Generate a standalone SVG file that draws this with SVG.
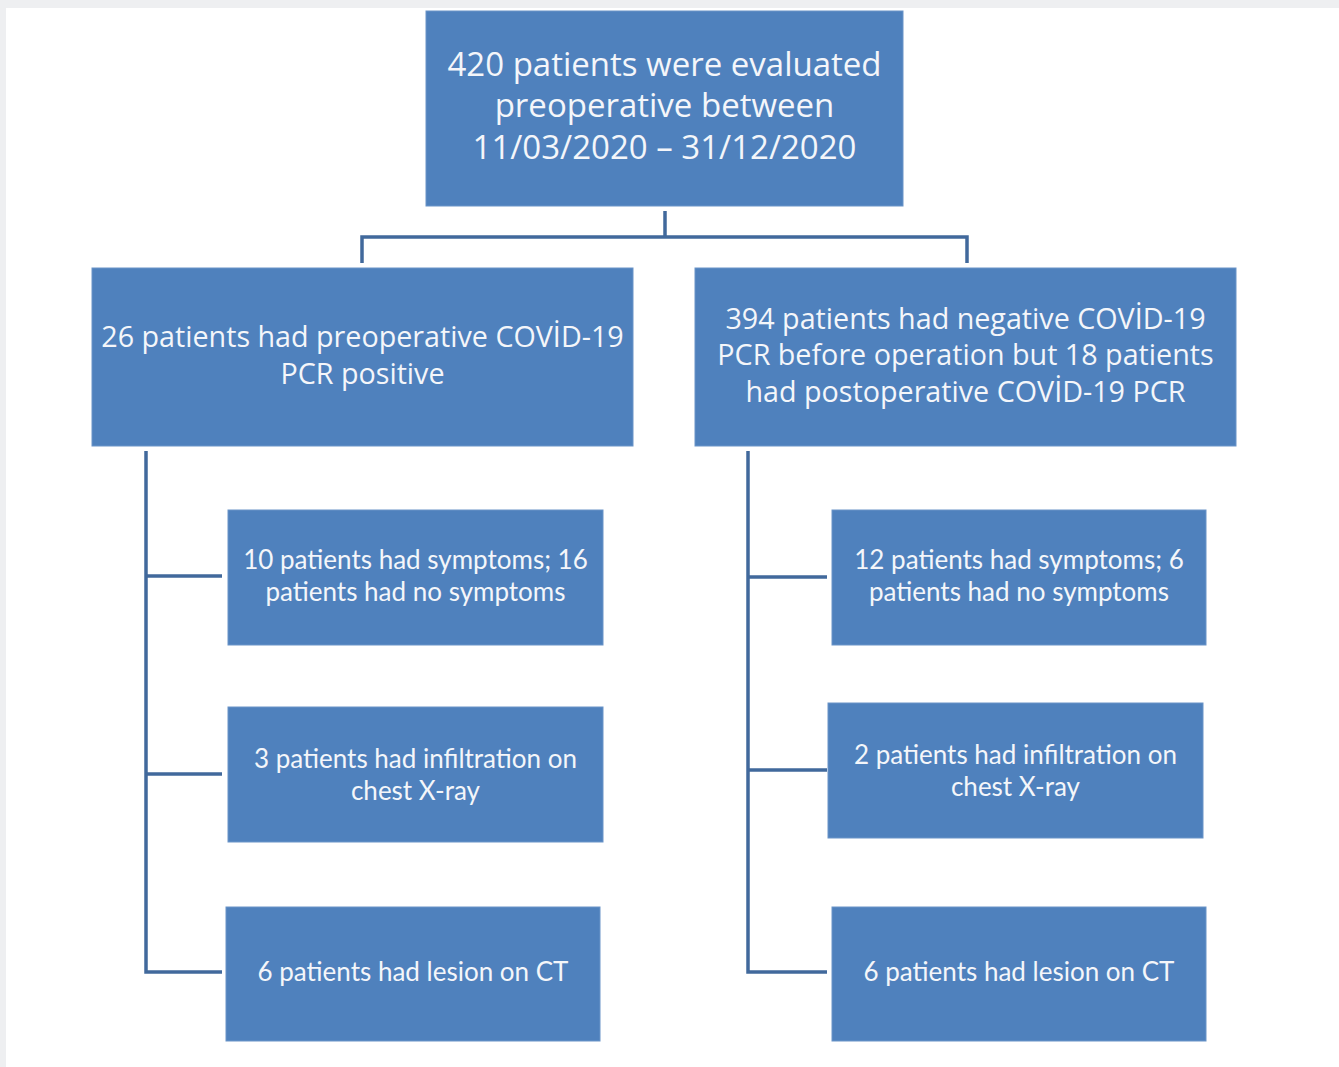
<svg xmlns="http://www.w3.org/2000/svg" width="1339" height="1067" viewBox="0 0 1339 1067">
<style>
.box{fill:#4f81bd;stroke:#6a94c8;stroke-width:1}
.big{font-family:"Open Sans","Noto Sans",sans-serif;fill:#f4f6fa;text-anchor:middle}
.small{font-family:Lato,"Open Sans",sans-serif;fill:#f4f6fa;text-anchor:middle;font-size:26px}
.conn{fill:none;stroke:#41699c;stroke-width:3.5;stroke-linejoin:miter}
</style>
<rect x="0" y="0" width="1339" height="1067" fill="#eeeff1"/>
<rect x="6" y="8" width="1333" height="1059" fill="#ffffff"/>
<g id="connectors">
<path class="conn" d="M665 211 V237 M362 263 V237 H967 V263"/>
<path class="conn" d="M146 451 V972 H222 M146 576 H222 M146 774 H222"/>
<path class="conn" d="M748 451 V972 H827 M748 577 H827 M748 770 H827"/>
</g>
<g id="n0">
<rect class="box" x="426" y="11" width="477" height="195"/>
<text class="big" font-size="33" x="664.5"><tspan x="664.5" y="76">420 patients were evaluated</tspan><tspan x="664.5" y="117">preoperative between</tspan><tspan x="664.5" y="159">11/03/2020 – 31/12/2020</tspan></text>
</g>
<g id="n1">
<rect class="box" x="92" y="268" width="541" height="178"/>
<text class="big" font-size="28.7" x="362.5"><tspan x="362.5" y="347">26 patients had preoperative COVİD-19</tspan><tspan x="362.5" y="384">PCR positive</tspan></text>
</g>
<g id="n2">
<rect class="box" x="695" y="268" width="541" height="178"/>
<text class="big" font-size="28.7" x="965.5"><tspan x="965.5" y="329">394 patients had negative COVİD-19</tspan><tspan x="965.5" y="365">PCR before operation but 18 patients</tspan><tspan x="965.5" y="402">had postoperative COVİD-19 PCR</tspan></text>
</g>
<g id="n3">
<rect class="box" x="228" y="510" width="375" height="135"/>
<text class="small"><tspan x="415.5" y="569">10 patients had symptoms; 16</tspan><tspan x="415.5" y="601">patients had no symptoms</tspan></text>
</g>
<g id="n4">
<rect class="box" x="228" y="707" width="375" height="135"/>
<text class="small"><tspan x="415.5" y="768">3 patients had infiltration on</tspan><tspan x="415.5" y="800">chest X-ray</tspan></text>
</g>
<g id="n5">
<rect class="box" x="226" y="907" width="374" height="134"/>
<text class="small"><tspan x="413" y="981">6 patients had lesion on CT</tspan></text>
</g>
<g id="n6">
<rect class="box" x="832" y="510" width="374" height="135"/>
<text class="small"><tspan x="1019" y="569">12 patients had symptoms; 6</tspan><tspan x="1019" y="601">patients had no symptoms</tspan></text>
</g>
<g id="n7">
<rect class="box" x="828" y="703" width="375" height="135"/>
<text class="small"><tspan x="1015.5" y="764">2 patients had infiltration on</tspan><tspan x="1015.5" y="796">chest X-ray</tspan></text>
</g>
<g id="n8">
<rect class="box" x="832" y="907" width="374" height="134"/>
<text class="small"><tspan x="1019" y="981">6 patients had lesion on CT</tspan></text>
</g>
</svg>
